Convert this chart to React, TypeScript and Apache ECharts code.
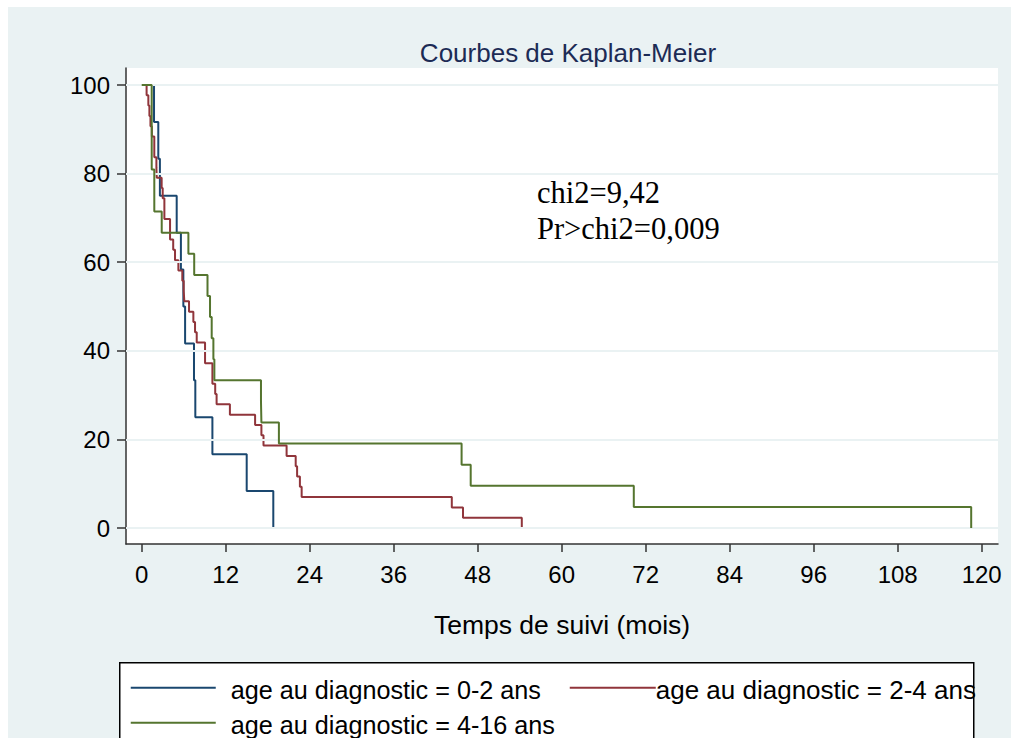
import React, { useEffect, useRef } from "react";
import * as echarts from "echarts";

// Axis ticks
const xTicks = [0, 12, 24, 36, 48, 60, 72, 84, 96, 108, 120];
const yTicks = [0, 20, 40, 60, 80, 100];

// Group labels
const groupNames = [
  "age au diagnostic = 0-2 ans",
  "age au diagnostic = 2-4 ans",
  "age au diagnostic = 4-16 ans",
];

// Kaplan-Meier steps: time (months) and survival (%) after each drop
const timesA = [0, 1.76, 2.37, 2.6, 5.0, 5.6, 5.95, 6.2, 7.47, 7.66, 10.1, 15.0, 18.8];
const survA = [100, 91.67, 83.33, 75, 66.67, 58.33, 50, 41.67, 33.33, 25, 16.67, 8.33, 0];

const timesB = [
  0, 0.7, 0.95, 1.1, 1.25, 1.45, 1.8, 2.1, 2.15, 2.85, 3.0, 3.24, 4.05, 4.5, 4.76, 5.24, 5.8,
  6.0, 6.09, 6.76, 7.38, 7.62, 7.86, 9.05, 10.1, 10.5, 10.7, 12.6, 16.2, 17.1, 17.4, 20.7,
  22.0, 22.2, 22.6, 22.85, 44.3, 45.9, 54.3,
];
const survB = [
  100, 97.67, 95.35, 93.02, 90.7, 88.37, 83.72, 81.4, 79.07, 76.74, 74.42, 69.77, 65.12,
  62.79, 60.47, 58.14, 55.81, 53.49, 51.16, 48.84, 46.51, 44.19, 41.86, 37.21, 32.56, 30.23,
  27.91, 25.58, 23.26, 20.93, 18.6, 16.28, 13.95, 11.63, 9.3, 6.98, 4.65, 2.33, 0,
];

const timesC = [0, 1.43, 1.8, 2.86, 6.67, 7.5, 9.4, 9.76, 10.0, 10.24, 10.38, 17.04, 17.1, 19.6, 45.7, 47.0, 70.3, 118.5];
const survC = [100, 80.95, 71.43, 66.67, 61.9, 57.14, 52.38, 47.62, 42.86, 38.1, 33.33, 28.57, 23.81, 19.05, 14.29, 9.52, 4.76, 0];

const colors = ["#1a476f", "#90353b", "#55752f"];
const statLines = ["chi2=9,42", "Pr>chi2=0,009"];

const zip = (t: number[], s: number[]) => t.map((v, i) => [v, s[i]]);

export default function App() {
  const ref = useRef<HTMLDivElement>(null);
  useEffect(() => {
    if (!ref.current) return;
    const chart = echarts.init(ref.current, null, { renderer: "svg" });
    const sans = "Liberation Sans, Arial, sans-serif";
    const serif = "Liberation Serif, Times New Roman, serif";
    const series: any[] = [
      {
        type: "line",
        data: [],
        silent: true,
        markLine: {
          silent: true,
          symbol: ["none", "none"],
          label: { show: false },
          lineStyle: { color: "#eaf2f3", width: 2, type: "solid" },
          data: yTicks.map((v) => ({ yAxis: v })),
        },
      },
      ...[zip(timesA, survA), zip(timesB, survB), zip(timesC, survC)].map((d, i) => ({
        type: "line",
        name: groupNames[i],
        step: "end",
        data: d,
        showSymbol: false,
        symbol: "none",
        silent: true,
        lineStyle: { color: colors[i], width: 2 },
        z: 3 + i,
      })),
    ];
    chart.setOption({
      animation: false,
      backgroundColor: "#eaf2f3",
      title: {
        text: "Courbes de Kaplan-Meier",
        left: 555,
        top: 28,
        textAlign: "center",
        textStyle: { fontFamily: sans, fontSize: 26, fontWeight: "normal", color: "#1c2b55" },
      },
      grid: {
        left: 118,
        top: 61,
        width: 872,
        height: 476,
        show: true,
        backgroundColor: "#ffffff",
        borderWidth: 0,
      },
      xAxis: {
        type: "value",
        min: -2.243,
        max: 122.33,
        name: "Temps de suivi (mois)",
        nameLocation: "middle",
        nameGap: 67,
        nameTextStyle: { fontFamily: sans, fontSize: 26.5, color: "#000" },
        axisLine: { show: true, onZero: false, lineStyle: { color: "#333", width: 1.5 } },
        axisTick: { show: true, length: 8, customValues: xTicks, lineStyle: { color: "#333", width: 1.5 } },
        axisLabel: { customValues: xTicks, margin: 18, fontFamily: sans, fontSize: 24, color: "#000" },
        splitLine: { show: false },
      },
      yAxis: {
        type: "value",
        min: -3.61,
        max: 103.84,
        axisLine: { show: true, onZero: false, lineStyle: { color: "#333", width: 1.5 } },
        axisTick: { show: true, length: 9, customValues: yTicks, lineStyle: { color: "#333", width: 1.5 } },
        axisLabel: { customValues: yTicks, margin: 16, fontFamily: sans, fontSize: 24, color: "#000" },
        splitLine: { show: false },
      },
      graphic: [
        {
          type: "text",
          left: 529,
          top: 168,
          style: {
            text: statLines.join("\n"),
            fontFamily: serif,
            fontSize: 30.5,
            lineHeight: 36,
            fill: "#000",
          },
          z: 10,
        },
        {
          type: "group",
          left: 111,
          top: 655,
          children: [
            { type: "rect", shape: { x: 0, y: 0, width: 854, height: 110 }, style: { fill: "#fff", stroke: "#000", lineWidth: 1.5 } },
            { type: "line", shape: { x1: 11, y1: 25, x2: 96, y2: 25 }, style: { stroke: colors[0], lineWidth: 2 } },
            { type: "text", x: 111, y: 27, style: { text: groupNames[0], fontFamily: sans, fontSize: 25.2, fill: "#000", textVerticalAlign: "middle" } },
            { type: "line", shape: { x1: 450, y1: 25, x2: 536, y2: 25 }, style: { stroke: colors[1], lineWidth: 2 } },
            { type: "text", x: 536, y: 27, style: { text: groupNames[1], fontFamily: sans, fontSize: 26, fill: "#000", textVerticalAlign: "middle" } },
            { type: "line", shape: { x1: 11, y1: 60, x2: 96, y2: 60 }, style: { stroke: colors[2], lineWidth: 2 } },
            { type: "text", x: 111, y: 62, style: { text: groupNames[2], fontFamily: sans, fontSize: 25.2, fill: "#000", textVerticalAlign: "middle" } },
          ],
        },
      ],
      series,
    });
    return () => chart.dispose();
  }, []);
  return (
    <div
      ref={ref}
      style={{ position: "absolute", left: 8, top: 7, width: 1003, height: 731 }}
    />
  );
}
